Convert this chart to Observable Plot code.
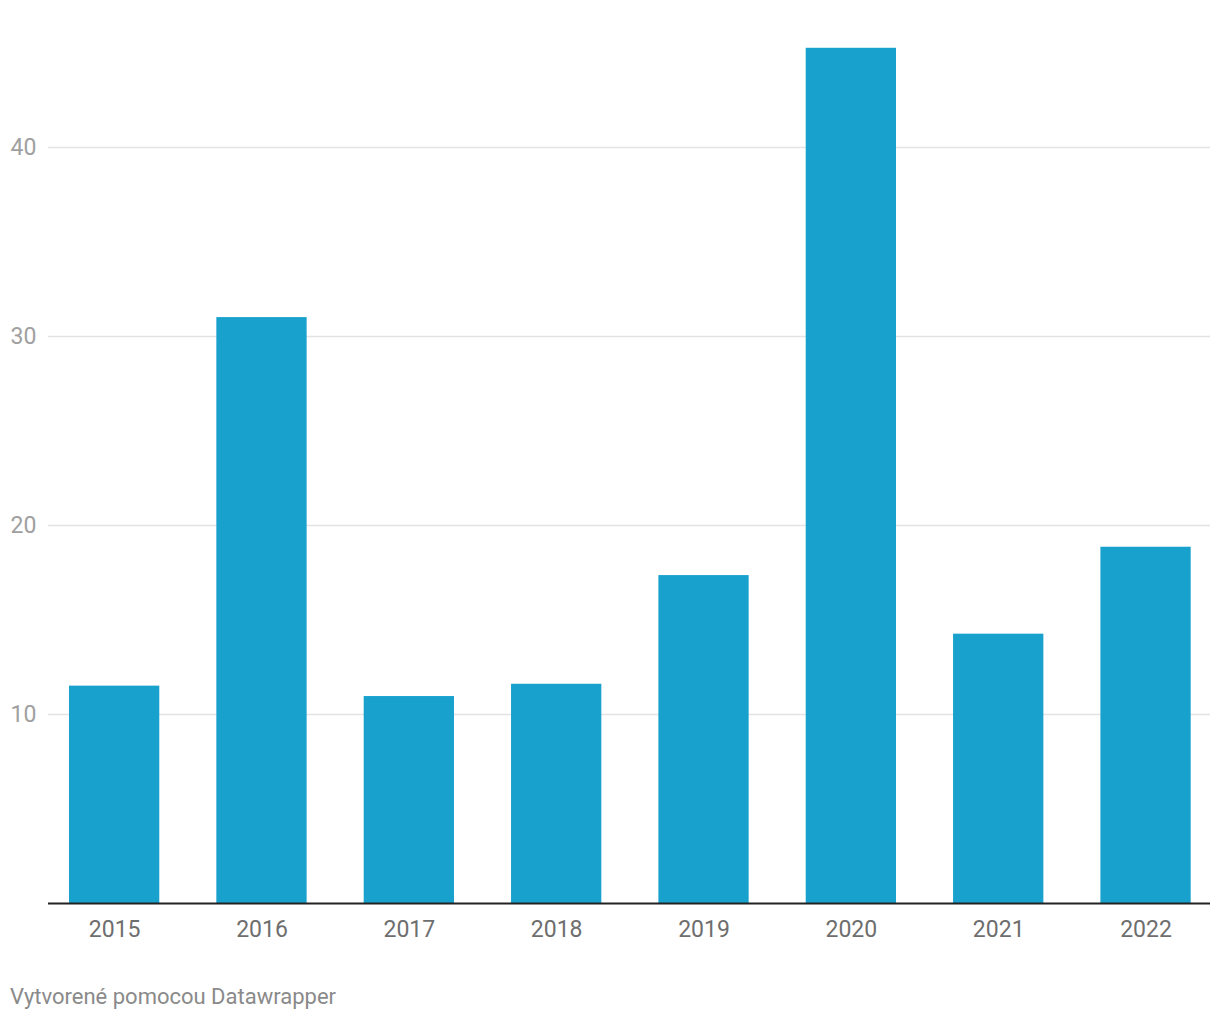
<!DOCTYPE html>
<html>
<head>
<meta charset="utf-8">
<script src="https://cdn.jsdelivr.net/npm/d3@7"></script>
<script src="https://cdn.jsdelivr.net/npm/@observablehq/plot@0.6"></script>
<style>
  body { margin: 0; background: #fff; font-family: Roboto, "Noto Sans", sans-serif; }
  #chart { position: relative; width: 1220px; }
  #footer { position: absolute; left: 10px; top: 984px; font-size: 22px; color: #8a8a8a; font-family: Roboto, sans-serif; }
</style>
</head>
<body>
<div id="chart"></div>
<div id="footer">Vytvorené pomocou Datawrapper</div>
<script>
const years = ["2015", "2016", "2017", "2018", "2019", "2020", "2021", "2022"];
const values = [11.5, 31.0, 10.95, 11.6, 17.35, 45.25, 14.25, 18.85];
const yTicks = [10, 20, 30, 40];

const data = years.map((y, i) => ({year: y, value: values[i]}));

const chart = Plot.plot({
  width: 1220,
  height: 960,
  marginTop: 0,
  marginBottom: 57,
  marginLeft: 48,
  marginRight: 10,
  style: {fontFamily: "Roboto, sans-serif", background: "#fff"},
  x: {domain: years, range: [69, 1190.7], paddingInner: 0.3872, paddingOuter: 0, round: false, label: null},
  y: {domain: [0, 903 / 18.9], label: null},
  marks: [
    Plot.gridY(yTicks, {stroke: "#e3e3e3", strokeWidth: 1.5, strokeOpacity: 1}),
    Plot.axisY(yTicks, {tickSize: 0, textAnchor: "start", dx: -29, fontSize: 23, fill: "#a0a0a0", label: null}),
    Plot.barY(data, {x: "year", y: "value", fill: "#18a1cd"}),
    Plot.ruleY([0], {stroke: "#222", strokeWidth: 2}),
    Plot.axisX({tickSize: 0, tickPadding: 17, fontSize: 23, fill: "#6e6e6e", label: null})
  ]
});
document.getElementById("chart").appendChild(chart);
</script>
</body>
</html>
